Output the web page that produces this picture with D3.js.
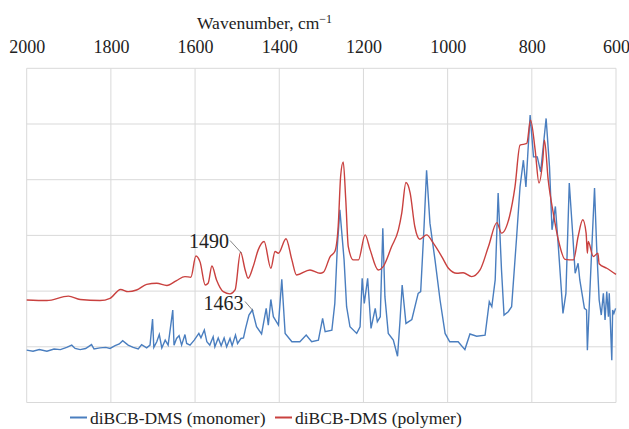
<!DOCTYPE html>
<html>
<head>
<meta charset="utf-8">
<script src="https://cdn.jsdelivr.net/npm/d3@7"></script>
<style>
  body { margin: 0; background: #fff; }
</style>
</head>
<body>
<svg id="chart" width="629" height="429"></svg>
<script>
var serif = "'Liberation Serif', 'Times New Roman', 'DejaVu Serif', serif"

// wavenumber ticks on the top axis
var xTicks = [2000, 1800, 1600, 1400, 1200, 1000, 800, 600]
var yGrid = [0, 1, 2, 3, 4, 5, 6]

// diBCB-DMS (polymer)
var polymerWn = [2000, 1952, 1901, 1873, 1826, 1802, 1777, 1759, 1739, 1715, 1691, 1667, 1644, 1624, 1610,
  1598, 1588, 1576, 1569, 1560, 1549, 1533, 1517, 1505, 1492, 1481, 1474, 1462, 1450, 1436, 1420, 1410,
  1402, 1384, 1370, 1359, 1327, 1303, 1295, 1279, 1268, 1260, 1254, 1248, 1242, 1236, 1224, 1212, 1196,
  1184, 1165, 1153, 1133, 1117, 1109, 1099, 1089, 1078, 1066, 1050, 1034, 1014, 998, 978, 963, 943, 923,
  903, 883, 872, 853, 840, 828, 812, 803, 792, 783, 774, 770, 761, 749, 737, 721, 701, 690, 679, 671, 668,
  666, 654, 643, 640, 622, 600]
var polymerAbs = [1.84, 1.83, 1.91, 1.85, 1.83, 1.87, 2.03, 1.99, 2.02, 2.12, 2.14, 2.10, 2.19, 2.26, 2.25,
  2.63, 2.52, 2.11, 2.14, 2.45, 2.20, 1.99, 1.95, 2.02, 2.70, 2.38, 2.23, 2.44, 2.74, 2.89, 2.41, 2.71,
  2.68, 2.94, 2.56, 2.29, 2.38, 2.32, 2.34, 2.62, 2.71, 3.16, 4.08, 4.32, 3.64, 2.80, 2.56, 2.56, 3.01,
  2.74, 2.38, 2.44, 2.80, 3.10, 3.40, 3.95, 3.76, 3.16, 2.93, 3.01, 2.86, 2.62, 2.41, 2.32, 2.33, 2.26, 2.38,
  2.80, 3.23, 3.04, 3.34, 3.87, 4.62, 4.65, 5.07, 4.53, 3.94, 4.35, 4.71, 3.99, 3.40, 2.92, 2.57, 2.56, 2.98,
  3.28, 3.04, 2.68, 2.89, 2.62, 2.68, 2.49, 2.41, 2.30]

// diBCB-DMS (monomer)
var monomerWn = [2000, 1985, 1970, 1952, 1935, 1920, 1905, 1893, 1885, 1873, 1860, 1846, 1840, 1826, 1812,
  1802, 1790, 1780, 1772, 1759, 1747, 1735, 1727, 1715, 1707, 1701, 1698, 1691, 1685, 1679, 1671, 1664,
  1653, 1650, 1644, 1638, 1632, 1624, 1620, 1612, 1602, 1591, 1586, 1578, 1572, 1565, 1557, 1553, 1545,
  1538, 1531, 1525, 1517, 1512, 1504, 1499, 1491, 1485, 1480, 1472, 1464, 1454, 1442, 1431, 1426, 1420,
  1414, 1402, 1394, 1386, 1370, 1351, 1336, 1323, 1307, 1297, 1291, 1275, 1268, 1262, 1256, 1250, 1246,
  1240, 1232, 1216, 1208, 1203, 1198, 1190, 1182, 1172, 1167, 1160, 1154, 1149, 1141, 1129, 1119, 1113,
  1108, 1099, 1085, 1070, 1064, 1056, 1050, 1042, 1030, 1018, 1006, 995, 975, 959, 947, 931, 911, 901,
  895, 887, 880, 872, 866, 856, 848, 836, 828, 820, 814, 809, 804, 796, 787, 779, 766, 758, 752, 744, 737,
  726, 719, 711, 703, 697, 690, 686, 675, 670, 668, 664, 659, 651, 646, 640, 635, 630, 626, 622, 618, 616,
  613, 610, 608, 605, 601]
var monomerAbs = [0.94, 0.92, 0.95, 0.92, 0.96, 0.95, 0.99, 1.03, 0.97, 0.95, 0.97, 1.04, 0.96, 0.98, 0.99,
  0.97, 1.02, 1.05, 1.11, 1.03, 0.99, 0.96, 1.04, 0.98, 1.03, 1.50, 0.99, 1.09, 1.22, 0.98, 1.12, 1.03,
  1.66, 1.03, 1.15, 1.20, 1.03, 1.22, 1.06, 1.03, 1.12, 1.24, 1.16, 1.30, 1.09, 1.03, 1.18, 1.00, 1.16,
  1.02, 1.16, 1.00, 1.15, 1.02, 1.21, 1.06, 1.15, 1.16, 1.33, 1.57, 1.66, 1.36, 1.23, 1.69, 1.39, 1.85,
  1.54, 1.39, 2.21, 1.24, 1.09, 1.09, 1.21, 1.09, 1.12, 1.51, 1.27, 1.30, 1.78, 2.80, 3.46, 2.92, 2.56,
  1.72, 1.36, 1.24, 1.36, 2.23, 1.78, 2.23, 1.33, 1.69, 1.45, 1.54, 3.13, 1.90, 1.24, 1.12, 0.83, 1.48,
  2.11, 1.42, 1.49, 1.96, 1.99, 3.16, 4.17, 3.22, 2.56, 1.84, 1.24, 1.09, 1.09, 0.95, 1.23, 1.19, 1.21, 1.81,
  1.72, 2.20, 3.76, 2.38, 1.57, 1.63, 1.72, 2.98, 3.87, 4.35, 3.87, 4.53, 5.16, 4.41, 4.41, 4.14, 5.10, 4.23, 3.10, 3.52, 2.80,
  1.60, 1.96, 3.94, 3.04, 2.32, 2.50, 2.20, 1.69, 1.66, 0.94, 1.66, 2.52, 3.85, 2.80, 1.84, 1.57, 1.96, 1.48, 1.99, 1.54, 1.96,
  1.36, 0.76, 1.66, 1.60, 1.69]

var polymer = polymerWn.map((w, i) => ({wn: w, v: polymerAbs[i]}))
var monomer = monomerWn.map((w, i) => ({wn: w, v: monomerAbs[i]}))

var svg = d3.select("#chart").style("font-family", serif)
var x = d3.scaleLinear().domain([2000, 600]).range([26.7, 616])
var y = d3.scaleLinear().domain([0, 6]).range([402.5, 68.3])

// grid
svg.append("g").selectAll("line").data(xTicks).enter().append("line")
  .attr("x1", d => x(d)).attr("x2", d => x(d))
  .attr("y1", y(0)).attr("y2", y(6))
  .attr("stroke", "#d9d9d9").attr("stroke-width", 1)
svg.append("g").selectAll("line").data(yGrid).enter().append("line")
  .attr("x1", x(2000)).attr("x2", x(600))
  .attr("y1", d => y(d)).attr("y2", d => y(d))
  .attr("stroke", "#d9d9d9").attr("stroke-width", 1)

// top axis
var axis = svg.append("g").attr("transform", "translate(0," + y(6) + ")")
  .call(d3.axisTop(x).tickValues(xTicks).tickSize(0).tickPadding(15).tickFormat(d3.format("d")))
axis.attr("font-family", null).attr("font-size", null)
axis.select(".domain").remove()
axis.selectAll("text").style("font-family", serif).style("font-size", "18px").attr("fill", "#222")

var title = svg.append("text").attr("x", 197).attr("y", 29)
  .style("font-family", serif).style("font-size", "17.5px").attr("fill", "#222")
title.append("tspan").text("Wavenumber, cm")
title.append("tspan").text("\u22121").style("font-size", "12px").attr("dy", "-6")

// spectra
var line = d3.line().x(d => x(d.wn)).y(d => y(d.v))
svg.append("path").datum(monomer)
  .attr("d", line.curve(d3.curveLinear))
  .attr("fill", "none").attr("stroke", "#4a7ebf").attr("stroke-width", 1.4)
svg.append("path").datum(polymer)
  .attr("d", line.curve(d3.curveMonotoneX))
  .attr("fill", "none").attr("stroke", "#c9413f").attr("stroke-width", 1.4)

// annotations
var notes = [{label: "1490", tx: 189, ty: 248, x1: 230, y1: 240.5, wn: 1492, v: 2.70},
             {label: "1463", tx: 203.5, ty: 310, x1: 245, y1: 301.5, wn: 1464, v: 1.66}]
notes.forEach(n => {
  svg.append("line").attr("x1", n.x1).attr("y1", n.y1)
    .attr("x2", x(n.wn) + 1).attr("y2", y(n.v) + 1)
    .attr("stroke", "#666").attr("stroke-width", 0.8)
  svg.append("text").attr("x", n.tx).attr("y", n.ty)
    .style("font-family", serif).style("font-size", "20px").attr("fill", "#222").text(n.label)
})

// legend
var legend = [{name: "diBCB-DMS (monomer)", color: "#4a7ebf", x: 70},
              {name: "diBCB-DMS (polymer)", color: "#c9413f", x: 275}]
legend.forEach(l => {
  svg.append("line").attr("x1", l.x).attr("x2", l.x + 17).attr("y1", 417.5).attr("y2", 417.5)
    .attr("stroke", l.color).attr("stroke-width", 2)
  svg.append("text").attr("x", l.x + 20).attr("y", 423.5)
    .style("font-family", serif).style("font-size", "17.5px").attr("fill", "#222").text(l.name)
})
</script>
</body>
</html>
